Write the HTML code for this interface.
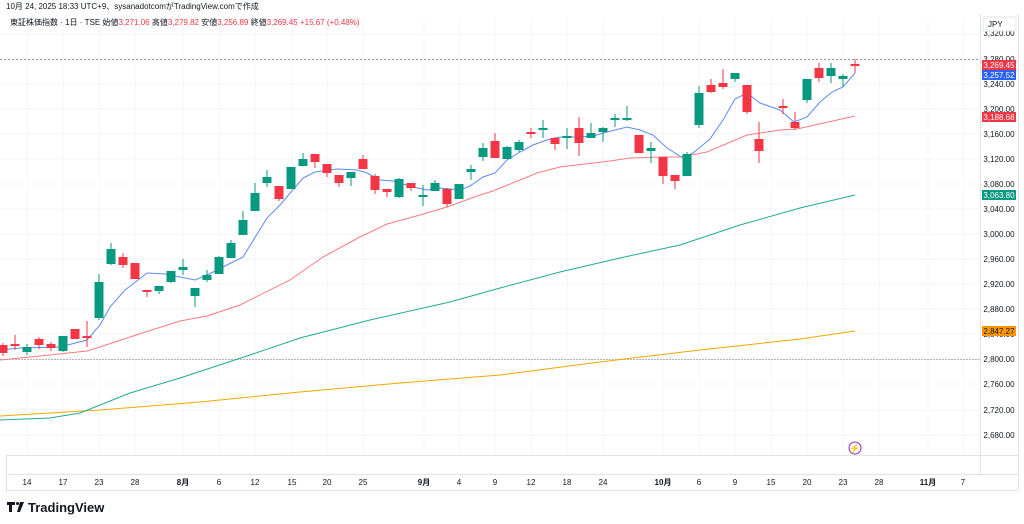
<!DOCTYPE html><html><head><meta charset="utf-8"><style>
body{margin:0;background:#fff;width:1024px;height:524px;overflow:hidden;font-family:"Liberation Sans","Noto Sans CJK JP",sans-serif}
svg{display:block}
</style></head><body>
<svg width="1024" height="524" viewBox="0 0 1024 524" font-family="Liberation Sans, Noto Sans CJK JP, sans-serif">
<rect width="1024" height="524" fill="#fff"/>
<g stroke="#f3f5f8" stroke-width="1">
<path d="M0 34H980M0 59H980M0 84H980M0 109H980M0 134H980M0 159H980M0 184H980M0 209H980M0 234H980M0 259H980M0 284H980M0 309H980M0 334H980M0 384H980M0 410H980M0 435H980"/>
<path d="M27 17V455M63 17V455M99 17V455M135 17V455M183 17V455M219 17V455M255 17V455M292 17V455M327 17V455M363 17V455M424 17V455M459 17V455M495 17V455M531 17V455M567 17V455M603 17V455M663 17V455M699 17V455M735 17V455M771 17V455M807 17V455M843 17V455M879 17V455M928 17V455M963 17V455"/>
</g>
<g stroke="#e0e3eb" stroke-width="1" fill="none">
<path d="M6 455.5H1018M6 474.5H1018M6 490.5H1018M1018.5 14V490M6.5 455V490M980.5 14V474"/>
</g>
<path d="M0 359.5H980" stroke="#b2b5be" stroke-width="1" stroke-dasharray="2 1"/>
<path d="M0 59.5H980" stroke="#9598a1" stroke-width="1" stroke-dasharray="2 2"/>
<polyline fill="none" stroke="#f7a600" stroke-width="1" points="0,416 100,410 200,402 300,392 400,383 500,375 600,362 700,350 800,339 855,331"/>
<polyline fill="none" stroke="#22ab94" stroke-width="1" points="0,420 50,418 80,413 100,405 130,393 180,378 250,355 300,338 370,320 450,302 500,288 560,272 620,258 680,245 740,225 800,208 855,195"/>
<polyline fill="none" stroke="#f77c80" stroke-width="1" points="0,360 40,356 87,351 100,347 133,336 180,321 207,316 240,305 290,280 323,257 360,237 387,224 420,215 447,207 480,195 493,191 537,173 560,167 610,161 630,158 660,157 680,157 707,152 747,135 780,130 797,129 855,116"/>
<polyline fill="none" stroke="#5b8cf5" stroke-width="1" points="0,350 20,348 60,347 87,340 100,325 110,307 125,290 147,273 165,274 195,280 209,274 243,257 267,218 280,205 303,178 315,172 337,169 357,170 367,173 380,180 393,181 413,187 427,190 440,188 460,190 470,186 483,177 495,173 507,160 520,152 533,145 547,140 560,137 580,137 593,136 607,132 627,127 640,130 653,135 667,148 683,158 693,153 710,139 723,120 735,99 747,93 760,103 780,110 794,122 807,117 820,102 832,92 843,87 855,73"/>
<g fill="#089981" stroke="#089981">
<path stroke-width="1" fill="none" d="M27 344V355M63 336V352M99 274V320M111 243V265M159 286V294M171 271V283M183 259V275M195 288V307M207 270V282M219 256V274M231 240V258M243 211V235M255 183V211M267 170V187M291 167V189M303 153V166M351 172V186M399 178V198M423 185V206M435 180V191M459 184V199M471 165V180M483 143V161M507 146V159M519 140V152M543 120V138M567 128V149M591 123V138M603 127V142M615 114V127M627 106V121M651 142V163M687 152V176M699 86V128M735 73V82M807 79V103M831 63V83M843 74V87"/>
<g stroke="none">
<rect x="22.5" y="347" width="9" height="5"/><rect x="58.5" y="336" width="9" height="15"/><rect x="94.5" y="282" width="9" height="36"/><rect x="106.5" y="249" width="9" height="15"/><rect x="154.5" y="286" width="9" height="5"/><rect x="166.5" y="271" width="9" height="11"/><rect x="178.5" y="267" width="9" height="3"/><rect x="190.5" y="288" width="9" height="8"/><rect x="202.5" y="275" width="9" height="5"/><rect x="214.5" y="257" width="9" height="17"/><rect x="226.5" y="243" width="9" height="15"/><rect x="238.5" y="220" width="9" height="15"/><rect x="250.5" y="193" width="9" height="18"/><rect x="262.5" y="177" width="9" height="6"/><rect x="286.5" y="167" width="9" height="22"/><rect x="298.5" y="159" width="9" height="7"/><rect x="346.5" y="172" width="9" height="6"/><rect x="394.5" y="179" width="9" height="18"/><rect x="418.5" y="195" width="9" height="2"/><rect x="430.5" y="183" width="9" height="8"/><rect x="454.5" y="184" width="9" height="15"/><rect x="466.5" y="169" width="9" height="3"/><rect x="478.5" y="148" width="9" height="9"/><rect x="502.5" y="147" width="9" height="12"/><rect x="514.5" y="142" width="9" height="8"/><rect x="538.5" y="128" width="9" height="2"/><rect x="562.5" y="136" width="9" height="2"/><rect x="586.5" y="133" width="9" height="5"/><rect x="598.5" y="128" width="9" height="4"/><rect x="610.5" y="118" width="9" height="2"/><rect x="622.5" y="118" width="9" height="2"/><rect x="646.5" y="148" width="9" height="3"/><rect x="682.5" y="154" width="9" height="22"/><rect x="694.5" y="93" width="9" height="32"/><rect x="730.5" y="73" width="9" height="6"/><rect x="802.5" y="79" width="9" height="21"/><rect x="826.5" y="68" width="9" height="8"/><rect x="838.5" y="76" width="9" height="3"/>
</g></g>
<g fill="#f23645" stroke="#f23645">
<path stroke-width="1" fill="none" d="M3 343V356M15 335V350M39 337V349M51 342V351M75 329V339M87 321V347M123 253V268M135 263V279M147 290V297M279 186V201M315 154V168M327 164V177M339 175V187M363 155V169M375 174V194M387 189V197M411 183V191M447 188V207M495 133V158M531 128V138M555 137V150M579 117V156M639 135V153M663 157V184M675 175V189M711 79V93M723 69V89M747 85V114M759 122V163M783 99V114M795 112V130M819 63V82M855 59V73"/>
<g stroke="none">
<rect x="0" y="345" width="7.5" height="8"/><rect x="10.5" y="344" width="9" height="2"/><rect x="34.5" y="339" width="9" height="6"/><rect x="46.5" y="344" width="9" height="4"/><rect x="70.5" y="329" width="9" height="10"/><rect x="82.5" y="336" width="9" height="2"/><rect x="118.5" y="257" width="9" height="8"/><rect x="130.5" y="263" width="9" height="16"/><rect x="142.5" y="290" width="9" height="2"/><rect x="274.5" y="186" width="9" height="13"/><rect x="310.5" y="154" width="9" height="8"/><rect x="322.5" y="164" width="9" height="9"/><rect x="334.5" y="175" width="9" height="8"/><rect x="358.5" y="159" width="9" height="10"/><rect x="370.5" y="176" width="9" height="14"/><rect x="382.5" y="189" width="9" height="3"/><rect x="406.5" y="183" width="9" height="5"/><rect x="442.5" y="189" width="9" height="15"/><rect x="490.5" y="141" width="9" height="17"/><rect x="526.5" y="132" width="9" height="2"/><rect x="550.5" y="138" width="9" height="6"/><rect x="574.5" y="128" width="9" height="15"/><rect x="634.5" y="135" width="9" height="18"/><rect x="658.5" y="157" width="9" height="19"/><rect x="670.5" y="175" width="9" height="6"/><rect x="706.5" y="85" width="9" height="7"/><rect x="718.5" y="83" width="9" height="4"/><rect x="742.5" y="85" width="9" height="27"/><rect x="754.5" y="139" width="9" height="12"/><rect x="778.5" y="106" width="9" height="2"/><rect x="790.5" y="122" width="9" height="6"/><rect x="814.5" y="68" width="9" height="10"/><rect x="850.5" y="64" width="9" height="2"/>
</g></g>
<circle cx="855" cy="448" r="6" fill="#fff" stroke="#9c27b0" stroke-width="1"/>
<text x="855" y="451.5" font-size="9" fill="#9c27b0" text-anchor="middle">⚡</text>
<g font-size="8" fill="#131722" text-anchor="middle">
<text x="999" y="36">3,320.00</text><text x="999" y="62">3,280.00</text><text x="999" y="87">3,240.00</text><text x="999" y="112">3,200.00</text><text x="999" y="137">3,160.00</text><text x="999" y="162">3,120.00</text><text x="999" y="187">3,080.00</text><text x="999" y="212">3,040.00</text><text x="999" y="237">3,000.00</text><text x="999" y="262">2,960.00</text><text x="999" y="287">2,920.00</text><text x="999" y="312">2,880.00</text><text x="999" y="337">2,840.00</text><text x="999" y="362">2,800.00</text><text x="999" y="387">2,760.00</text><text x="999" y="413">2,720.00</text><text x="999" y="438">2,680.00</text>
</g>
<rect x="983" y="17" width="33" height="14" rx="2" fill="#fff" stroke="#e0e3eb"/>
<text x="988" y="27" font-size="8" fill="#131722">JPY</text>
<g font-size="8" fill="#fff" text-anchor="middle">
<rect x="982" y="60" width="34" height="10" fill="#f23645"/><text x="999" y="68">3,269.45</text>
<rect x="982" y="70" width="34" height="10" fill="#2962ff"/><text x="999" y="78">3,257.52</text>
<rect x="982" y="112" width="34" height="10" fill="#f23645"/><text x="999" y="120">3,188.68</text>
<rect x="982" y="190" width="34" height="10" fill="#089981"/><text x="999" y="198">3,063.80</text>
<rect x="982" y="326" width="34" height="10" fill="#ff9800"/><text x="999" y="334" fill="#131722">2,847.27</text>
</g>
<g font-size="8" fill="#131722" text-anchor="middle">
<text x="27" y="485">14</text><text x="63" y="485">17</text><text x="99" y="485">23</text><text x="135" y="485">28</text><text x="183" y="485" font-weight="bold">8月</text><text x="219" y="485">6</text><text x="255" y="485">12</text><text x="292" y="485">15</text><text x="327" y="485">20</text><text x="363" y="485">25</text><text x="424" y="485" font-weight="bold">9月</text><text x="459" y="485">4</text><text x="495" y="485">9</text><text x="531" y="485">12</text><text x="567" y="485">18</text><text x="603" y="485">24</text><text x="663" y="485" font-weight="bold">10月</text><text x="699" y="485">6</text><text x="735" y="485">9</text><text x="771" y="485">15</text><text x="807" y="485">20</text><text x="843" y="485">23</text><text x="879" y="485">28</text><text x="928" y="485" font-weight="bold">11月</text><text x="963" y="485">7</text>
</g>
<text x="6" y="9" font-size="8" fill="#131722">10月 24, 2025 18:33 UTC+9、sysanadotcomがTradingView.comで作成</text>
<text x="10" y="25" font-size="8" fill="#131722">東証株価指数 · 1日 · TSE  <tspan>始値</tspan><tspan fill="#f23645">3,271.06</tspan> 高値<tspan fill="#f23645">3,279.82</tspan> 安値<tspan fill="#f23645">3,256.89</tspan> 終値<tspan fill="#f23645">3,269.45 +15.67 (+0.48%)</tspan></text>
<g fill="#131722">
<path d="M7 502h8v3h-3v7h-3v-7H7z"/><circle cx="17.5" cy="503.5" r="1.5"/><path d="M20 502h4l-4 10h-3z"/>
</g>
<text x="28" y="512" font-size="13" font-weight="bold" fill="#131722">TradingView</text>
</svg>
</body></html>
